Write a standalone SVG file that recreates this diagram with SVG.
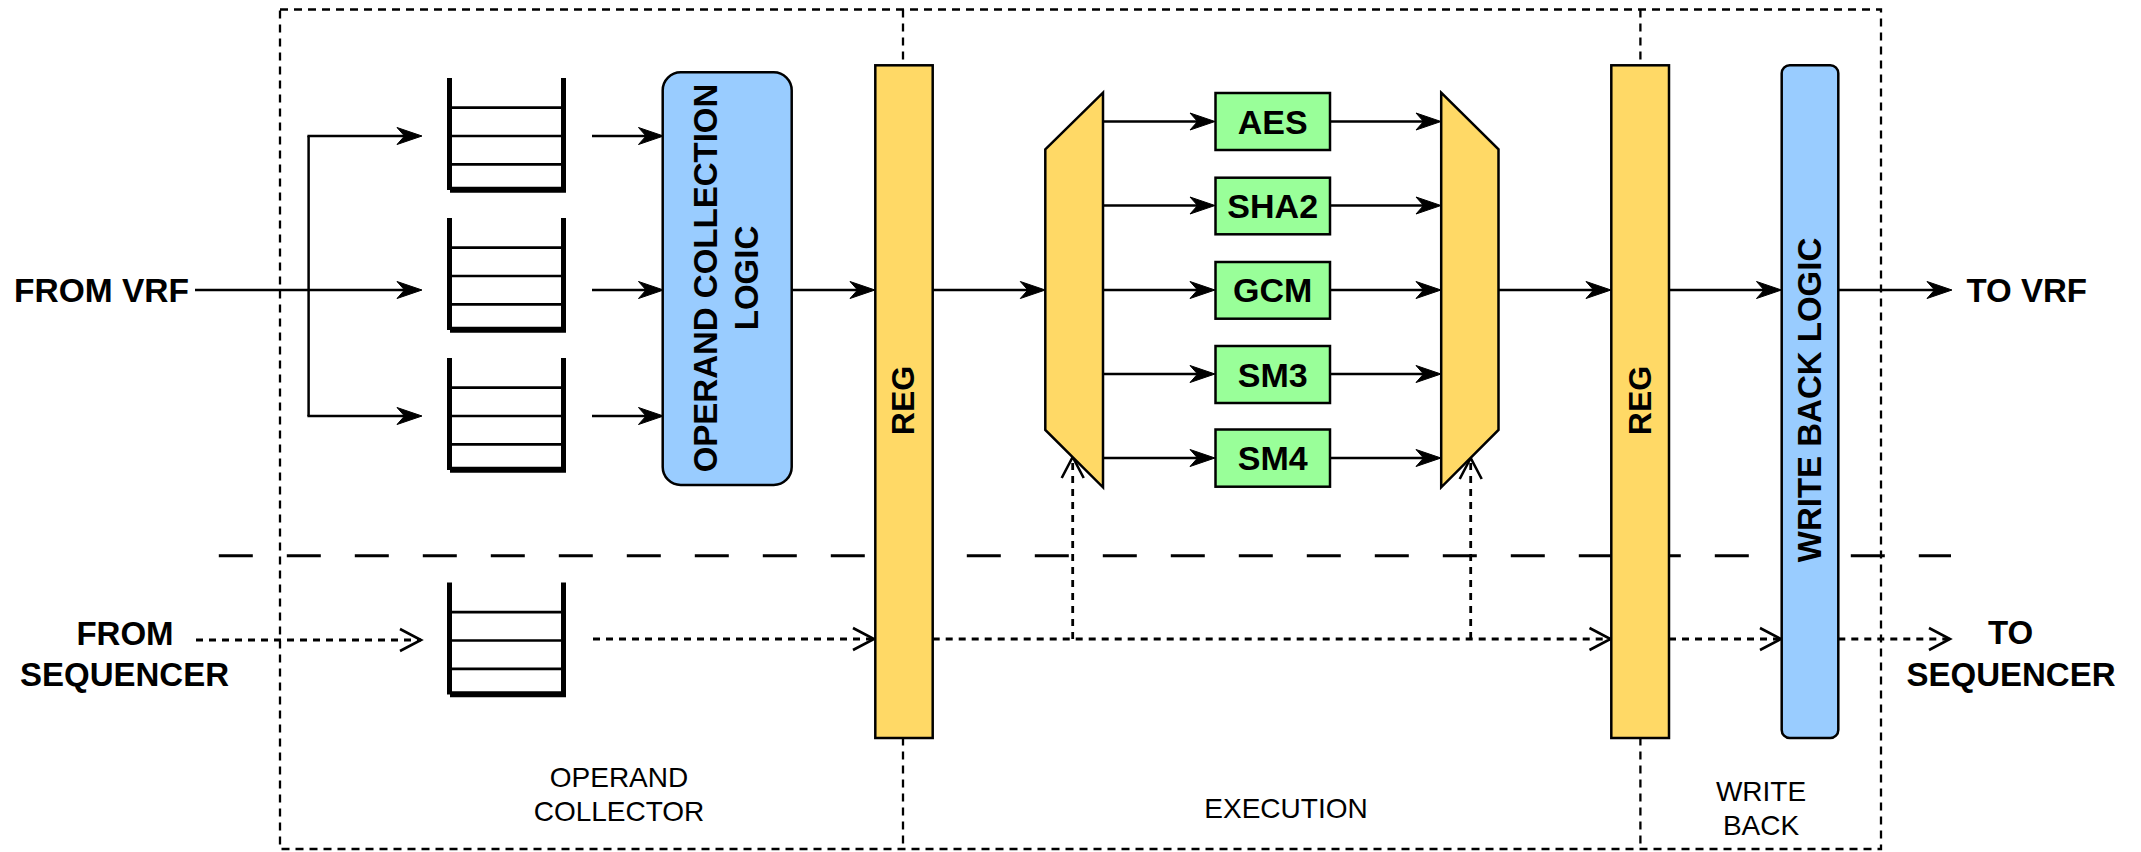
<svg xmlns="http://www.w3.org/2000/svg" width="2141" height="852" viewBox="0 0 2141 852">
<style>
.t{font-family:"Liberation Sans",Arial,sans-serif;fill:#000}
.b{font-weight:bold;font-size:33px}
.g{font-size:34px}
.r{font-size:28px}
.reg{fill:#FFD966;stroke:#000;stroke-width:2.5}
.blu{fill:#99CCFF;stroke:#000;stroke-width:2.5}
.grn{fill:#99FF99;stroke:#000;stroke-width:2.5}
.ln{fill:none;stroke:#000;stroke-width:2.5}
.dot{fill:none;stroke:#000;stroke-width:2.8;stroke-dasharray:7 6}
.box{fill:none;stroke:#000;stroke-width:2.3;stroke-dasharray:8 6}
.fv{stroke:#000;stroke-width:5;fill:none}
.fb{stroke:#000;stroke-width:6;fill:none}
.fi{stroke:#000;stroke-width:2.7;fill:none}
</style>
<defs>
<marker id="ar" markerUnits="userSpaceOnUse" markerWidth="40" markerHeight="24" viewBox="-26 -12 40 24" refX="-12" refY="0" orient="auto" overflow="visible">
<path d="M0,0 L-25,-8.5 L-17.5,0 L-25,8.5 Z" fill="#000" stroke="#000" stroke-width="1" stroke-linejoin="miter"/>
</marker>
<marker id="op" markerUnits="userSpaceOnUse" markerWidth="30" markerHeight="30" viewBox="-24 -14 30 28" refX="0" refY="0" orient="auto" overflow="visible">
<path d="M-21,-11 L0,0 L-21,11" fill="none" stroke="#000" stroke-width="2.6" stroke-dasharray="none"/>
</marker>
<g id="fifo">
<line class="fi" x1="452" y1="107.7" x2="561" y2="107.7"/>
<line class="fi" x1="452" y1="136" x2="561" y2="136"/>
<line class="fi" x1="452" y1="164.3" x2="561" y2="164.3"/>
<line class="fv" x1="449.5" y1="78" x2="449.5" y2="190"/>
<line class="fv" x1="563.5" y1="78" x2="563.5" y2="190"/>
<line class="fb" x1="450" y1="189.7" x2="566" y2="189.7"/>
</g>
</defs>

<g id="stages">
<rect class="box" x="280" y="9.5" width="1601" height="839.5"/>
<line class="box" x1="903" y1="9.5" x2="903" y2="849"/>
<line class="box" x1="1640.4" y1="9.5" x2="1640.4" y2="849"/>
<line x1="218.8" y1="555.7" x2="1951" y2="555.7" stroke="#000" stroke-width="3" stroke-dasharray="34 34"/>
</g>

<g id="connectors">
<line class="ln" x1="195" y1="290" x2="410" y2="290" marker-end="url(#ar)"/>
<line class="ln" x1="308.6" y1="136" x2="308.6" y2="416"/>
<line class="ln" x1="307.4" y1="136" x2="410" y2="136" marker-end="url(#ar)"/>
<line class="ln" x1="307.4" y1="416" x2="410" y2="416" marker-end="url(#ar)"/>
<line class="ln" x1="592" y1="136" x2="651.5" y2="136" marker-end="url(#ar)"/>
<line class="ln" x1="592" y1="290" x2="651.5" y2="290" marker-end="url(#ar)"/>
<line class="ln" x1="592" y1="416" x2="651.5" y2="416" marker-end="url(#ar)"/>
<line class="ln" x1="791.7" y1="290" x2="863" y2="290" marker-end="url(#ar)"/>
<line class="ln" x1="932.7" y1="290" x2="1033.3" y2="290" marker-end="url(#ar)"/>
<line class="ln" x1="1103" y1="121.5" x2="1203" y2="121.5" marker-end="url(#ar)"/>
<line class="ln" x1="1103" y1="205.5" x2="1203" y2="205.5" marker-end="url(#ar)"/>
<line class="ln" x1="1103" y1="290" x2="1203" y2="290" marker-end="url(#ar)"/>
<line class="ln" x1="1103" y1="374" x2="1203" y2="374" marker-end="url(#ar)"/>
<line class="ln" x1="1103" y1="458" x2="1203" y2="458" marker-end="url(#ar)"/>
<line class="ln" x1="1330" y1="121.5" x2="1429" y2="121.5" marker-end="url(#ar)"/>
<line class="ln" x1="1330" y1="205.5" x2="1429" y2="205.5" marker-end="url(#ar)"/>
<line class="ln" x1="1330" y1="290" x2="1429" y2="290" marker-end="url(#ar)"/>
<line class="ln" x1="1330" y1="374" x2="1429" y2="374" marker-end="url(#ar)"/>
<line class="ln" x1="1330" y1="458" x2="1429" y2="458" marker-end="url(#ar)"/>
<line class="ln" x1="1498.5" y1="290" x2="1599" y2="290" marker-end="url(#ar)"/>
<line class="ln" x1="1669" y1="290" x2="1769.5" y2="290" marker-end="url(#ar)"/>
<line class="ln" x1="1838.3" y1="290" x2="1940" y2="290" marker-end="url(#ar)"/>

<line class="dot" x1="196" y1="640" x2="421" y2="640" marker-end="url(#op)"/>
<line class="dot" x1="593" y1="639" x2="874" y2="639" marker-end="url(#op)"/>
<line class="dot" x1="932.7" y1="639" x2="1610.5" y2="639" marker-end="url(#op)"/>
<line class="dot" x1="1072.7" y1="639" x2="1072.7" y2="457" marker-end="url(#op)"/>
<line class="dot" x1="1470.7" y1="639" x2="1470.7" y2="458" marker-end="url(#op)"/>
<line class="dot" x1="1669" y1="639" x2="1781" y2="639" marker-end="url(#op)"/>
<line class="dot" x1="1838.3" y1="639" x2="1950" y2="639" marker-end="url(#op)"/>
</g>

<g id="fifo1"><use href="#fifo"/></g>
<g id="fifo2"><use href="#fifo" y="140"/></g>
<g id="fifo3"><use href="#fifo" y="280"/></g>
<g id="fifo-seq"><use href="#fifo" y="504.5"/></g>

<g id="ocl">
<rect class="blu" x="662.7" y="72.3" width="129" height="412.7" rx="18" ry="18"/>
<text class="t b" text-anchor="middle" transform="translate(716.7,278) rotate(-90)">OPERAND COLLECTION</text>
<text class="t b" text-anchor="middle" transform="translate(758.3,278) rotate(-90)">LOGIC</text>
</g>

<g id="reg1">
<rect class="reg" x="875.3" y="65.3" width="57.4" height="672.7"/>
<text class="t b" style="font-size:32px" text-anchor="middle" transform="translate(913.5,400.5) rotate(-90)">REG</text>
</g>

<g id="mux1">
<polygon class="reg" points="1045.3,149.3 1103,92.7 1103,487.3 1045.3,430"/>
</g>

<g id="aes"><rect class="grn" x="1215.5" y="93" width="114.5" height="57"/><text class="t b g" x="1272.7" y="133.7" text-anchor="middle">AES</text></g>
<g id="sha2"><rect class="grn" x="1215.5" y="177.7" width="114.5" height="56.6"/><text class="t b g" x="1272.7" y="218.2" text-anchor="middle">SHA2</text></g>
<g id="gcm"><rect class="grn" x="1215.5" y="262" width="114.5" height="56.7"/><text class="t b g" x="1272.7" y="302.4" text-anchor="middle">GCM</text></g>
<g id="sm3"><rect class="grn" x="1215.5" y="346" width="114.5" height="57"/><text class="t b g" x="1272.7" y="386.7" text-anchor="middle">SM3</text></g>
<g id="sm4"><rect class="grn" x="1215.5" y="429.5" width="114.5" height="57.2"/><text class="t b g" x="1272.7" y="470.4" text-anchor="middle">SM4</text></g>

<g id="mux2">
<polygon class="reg" points="1441.2,92.7 1498.5,149.3 1498.5,430 1441.2,487.3"/>
</g>

<g id="reg2">
<rect class="reg" x="1611.3" y="65.3" width="57.7" height="672.7"/>
<text class="t b" style="font-size:32px" text-anchor="middle" transform="translate(1650.5,400.5) rotate(-90)">REG</text>
</g>

<g id="wbl">
<rect class="blu" x="1781.7" y="65.3" width="56.6" height="672.7" rx="8" ry="8"/>
<text class="t b" text-anchor="middle" transform="translate(1820.8,400) rotate(-90)">WRITE BACK LOGIC</text>
</g>

<g id="labels">
<text class="t b" x="14" y="302" style="font-size:33.5px">FROM VRF</text>
<text class="t b" x="1966.5" y="302">TO VRF</text>
<text class="t b" x="125" y="645" text-anchor="middle">FROM</text>
<text class="t b" x="124.5" y="686" text-anchor="middle">SEQUENCER</text>
<text class="t b" x="2010.5" y="644" text-anchor="middle">TO</text>
<text class="t b" x="2011" y="686" text-anchor="middle">SEQUENCER</text>
<text class="t r" x="619" y="787" text-anchor="middle">OPERAND</text>
<text class="t r" x="619" y="821" text-anchor="middle">COLLECTOR</text>
<text class="t r" x="1286" y="818" text-anchor="middle">EXECUTION</text>
<text class="t r" x="1761" y="801" text-anchor="middle">WRITE</text>
<text class="t r" x="1761" y="835" text-anchor="middle">BACK</text>
</g>
</svg>
